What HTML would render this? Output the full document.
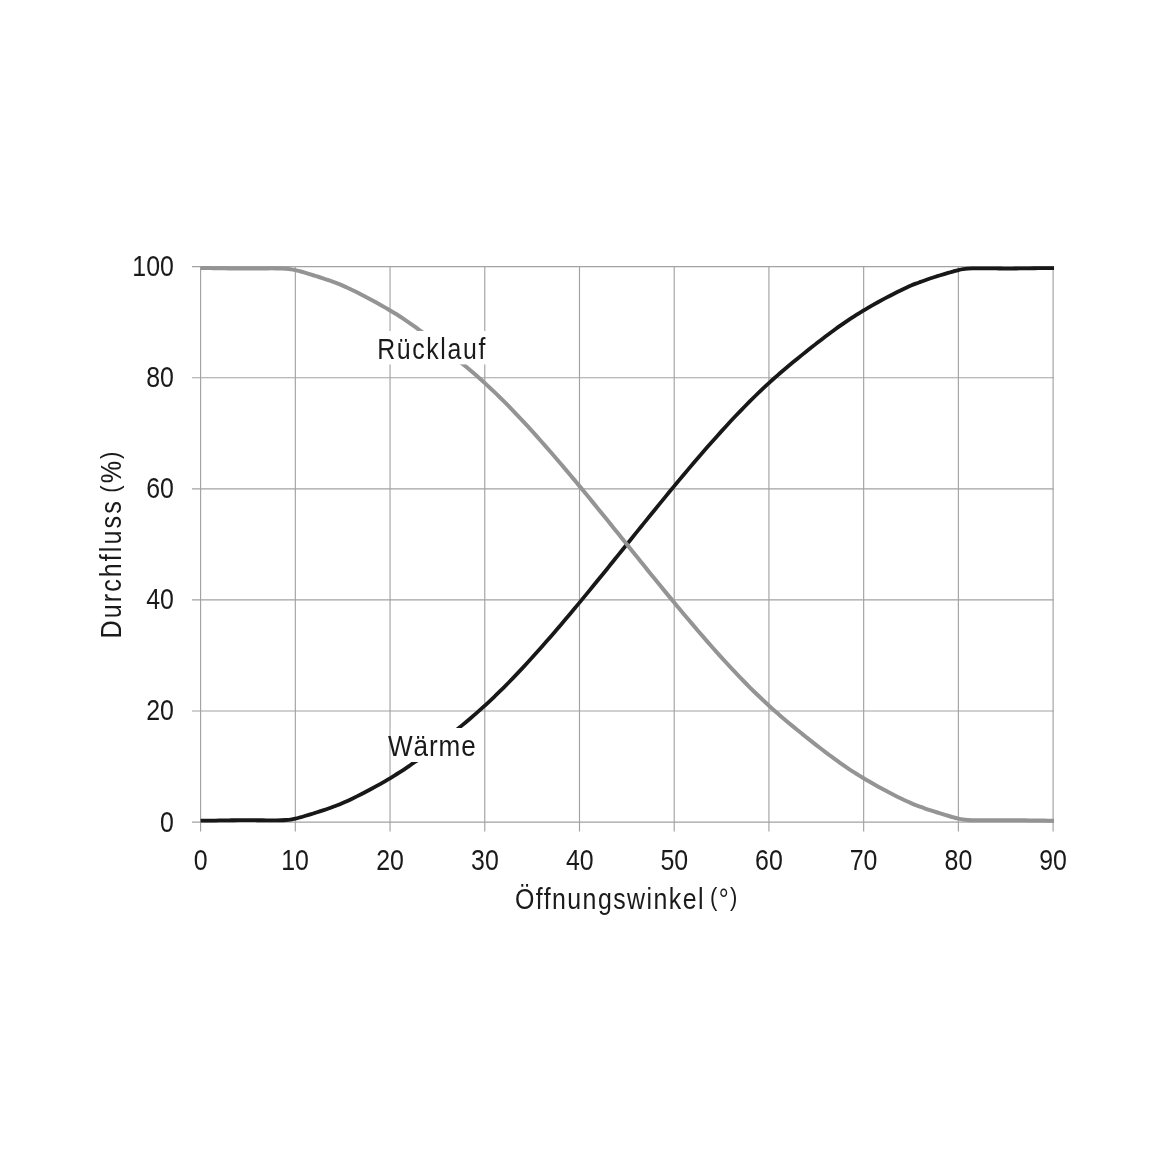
<!DOCTYPE html>
<html lang="de"><head><meta charset="utf-8"><title>Durchfluss / Öffnungswinkel</title>
<style>
html,body{margin:0;padding:0;background:#fff;}
body{width:1171px;height:1171px;overflow:hidden;}
svg{display:block;}
text{font-family:"Liberation Sans",sans-serif;fill:#1a1a1a;}
</style></head><body>
<svg width="1171" height="1171" viewBox="0 0 1171 1171">
<rect width="1171" height="1171" fill="#fff"/>

<g stroke="#a2a2a2" stroke-width="1.15" fill="none">
<line x1="200.60" y1="266.00" x2="200.60" y2="831.50"/>
<line x1="295.32" y1="266.00" x2="295.32" y2="831.50"/>
<line x1="390.04" y1="266.00" x2="390.04" y2="831.50"/>
<line x1="484.77" y1="266.00" x2="484.77" y2="831.50"/>
<line x1="579.49" y1="266.00" x2="579.49" y2="831.50"/>
<line x1="674.21" y1="266.00" x2="674.21" y2="831.50"/>
<line x1="768.93" y1="266.00" x2="768.93" y2="831.50"/>
<line x1="863.66" y1="266.00" x2="863.66" y2="831.50"/>
<line x1="958.38" y1="266.00" x2="958.38" y2="831.50"/>
<line x1="1053.10" y1="266.00" x2="1053.10" y2="831.50"/>
<line x1="192.00" y1="822.10" x2="1053.70" y2="822.10"/>
<line x1="192.00" y1="711.00" x2="1053.70" y2="711.00"/>
<line x1="192.00" y1="599.90" x2="1053.70" y2="599.90"/>
<line x1="192.00" y1="488.80" x2="1053.70" y2="488.80"/>
<line x1="192.00" y1="377.70" x2="1053.70" y2="377.70"/>
<line x1="192.00" y1="266.60" x2="1053.70" y2="266.60"/>
</g>
<path d="M200.60 820.66 C201.39 820.66 203.76 820.66 205.34 820.65 C206.91 820.64 208.49 820.62 210.07 820.60 C211.65 820.59 213.23 820.56 214.81 820.54 C216.39 820.52 217.97 820.49 219.54 820.46 C221.12 820.44 222.70 820.41 224.28 820.38 C225.86 820.35 227.44 820.32 229.02 820.30 C230.60 820.28 232.17 820.25 233.75 820.23 C235.33 820.21 236.91 820.20 238.49 820.19 C240.07 820.17 241.65 820.17 243.22 820.16 C244.80 820.16 246.38 820.16 247.96 820.16 C249.54 820.17 251.12 820.18 252.70 820.19 C254.28 820.20 255.85 820.21 257.43 820.23 C259.01 820.24 260.59 820.26 262.17 820.27 C263.75 820.29 265.33 820.30 266.91 820.31 C268.48 820.33 270.06 820.34 271.64 820.34 C273.22 820.34 274.80 820.34 276.38 820.32 C277.96 820.30 279.54 820.28 281.11 820.23 C282.69 820.18 284.27 820.12 285.85 820.00 C287.43 819.88 289.01 819.74 290.59 819.51 C292.16 819.28 293.74 818.97 295.32 818.62 C296.90 818.27 298.48 817.83 300.06 817.40 C301.64 816.97 303.22 816.50 304.79 816.04 C306.37 815.58 307.95 815.10 309.53 814.62 C311.11 814.14 312.69 813.65 314.27 813.16 C315.85 812.67 317.42 812.18 319.00 811.68 C320.58 811.17 322.16 810.66 323.74 810.14 C325.32 809.61 326.90 809.08 328.47 808.52 C330.05 807.96 331.63 807.37 333.21 806.80 C334.79 806.23 336.37 805.70 337.95 805.08 C339.53 804.46 341.10 803.78 342.68 803.09 C344.26 802.41 345.84 801.70 347.42 800.97 C349.00 800.25 350.58 799.50 352.16 798.74 C353.73 797.98 355.31 797.20 356.89 796.41 C358.47 795.62 360.05 794.81 361.63 794.00 C363.21 793.19 364.79 792.36 366.36 791.53 C367.94 790.70 369.52 789.86 371.10 789.00 C372.68 788.15 374.26 787.30 375.84 786.43 C377.41 785.56 378.99 784.68 380.57 783.79 C382.15 782.90 383.73 782.00 385.31 781.08 C386.89 780.16 388.47 779.23 390.04 778.29 C391.62 777.34 393.20 776.38 394.78 775.40 C396.36 774.43 397.94 773.43 399.52 772.42 C401.10 771.41 402.67 770.37 404.25 769.33 C405.83 768.28 407.41 767.21 408.99 766.13 C410.57 765.04 412.15 763.94 413.72 762.82 C415.30 761.71 416.88 760.57 418.46 759.42 C420.04 758.28 421.62 757.11 423.20 755.94 C424.78 754.76 426.35 753.57 427.93 752.38 C429.51 751.18 431.09 749.97 432.67 748.75 C434.25 747.54 435.83 746.31 437.41 745.08 C438.98 743.85 440.56 742.61 442.14 741.36 C443.72 740.12 445.30 738.87 446.88 737.61 C448.46 736.35 450.04 735.09 451.61 733.82 C453.19 732.55 454.77 731.28 456.35 729.99 C457.93 728.71 459.51 727.42 461.09 726.12 C462.66 724.82 464.24 723.51 465.82 722.19 C467.40 720.87 468.98 719.53 470.56 718.19 C472.14 716.84 473.72 715.48 475.29 714.11 C476.87 712.73 478.45 711.34 480.03 709.93 C481.61 708.53 483.19 707.11 484.77 705.66 C486.35 704.22 487.92 702.77 489.50 701.29 C491.08 699.81 492.66 698.32 494.24 696.81 C495.82 695.30 497.40 693.77 498.97 692.22 C500.55 690.68 502.13 689.12 503.71 687.54 C505.29 685.96 506.87 684.36 508.45 682.75 C510.03 681.14 511.60 679.52 513.18 677.88 C514.76 676.24 516.34 674.58 517.92 672.91 C519.50 671.24 521.08 669.56 522.66 667.87 C524.23 666.17 525.81 664.47 527.39 662.75 C528.97 661.03 530.55 659.30 532.13 657.56 C533.71 655.82 535.29 654.07 536.86 652.30 C538.44 650.54 540.02 648.77 541.60 646.98 C543.18 645.20 544.76 643.41 546.34 641.61 C547.91 639.81 549.49 637.99 551.07 636.17 C552.65 634.36 554.23 632.53 555.81 630.69 C557.39 628.85 558.97 627.01 560.54 625.16 C562.12 623.31 563.70 621.45 565.28 619.58 C566.86 617.71 568.44 615.84 570.02 613.96 C571.60 612.08 573.17 610.19 574.75 608.30 C576.33 606.40 577.91 604.51 579.49 602.60 C581.07 600.70 582.65 598.79 584.22 596.87 C585.80 594.96 587.38 593.04 588.96 591.11 C590.54 589.19 592.12 587.26 593.70 585.32 C595.28 583.39 596.85 581.45 598.43 579.51 C600.01 577.57 601.59 575.63 603.17 573.68 C604.75 571.74 606.33 569.79 607.91 567.84 C609.48 565.89 611.06 563.93 612.64 561.98 C614.22 560.02 615.80 558.07 617.38 556.11 C618.96 554.15 620.54 552.19 622.11 550.23 C623.69 548.27 625.27 546.31 626.85 544.35 C628.43 542.39 630.01 540.43 631.59 538.47 C633.16 536.51 634.74 534.55 636.32 532.59 C637.90 530.63 639.48 528.68 641.06 526.72 C642.64 524.77 644.22 522.81 645.79 520.86 C647.37 518.91 648.95 516.96 650.53 515.02 C652.11 513.07 653.69 511.13 655.27 509.19 C656.85 507.25 658.42 505.31 660.00 503.38 C661.58 501.44 663.16 499.51 664.74 497.59 C666.32 495.66 667.90 493.74 669.47 491.83 C671.05 489.91 672.63 488.00 674.21 486.10 C675.79 484.19 677.37 482.30 678.95 480.40 C680.53 478.51 682.10 476.62 683.68 474.74 C685.26 472.86 686.84 470.99 688.42 469.12 C690.00 467.25 691.58 465.39 693.16 463.54 C694.73 461.69 696.31 459.85 697.89 458.01 C699.47 456.17 701.05 454.34 702.63 452.53 C704.21 450.71 705.79 448.89 707.36 447.09 C708.94 445.29 710.52 443.50 712.10 441.72 C713.68 439.93 715.26 438.16 716.84 436.40 C718.41 434.63 719.99 432.88 721.57 431.14 C723.15 429.40 724.73 427.67 726.31 425.95 C727.89 424.23 729.47 422.53 731.04 420.83 C732.62 419.14 734.20 417.46 735.78 415.79 C737.36 414.12 738.94 412.46 740.52 410.82 C742.10 409.18 743.67 407.56 745.25 405.95 C746.83 404.34 748.41 402.74 749.99 401.16 C751.57 399.58 753.15 398.02 754.72 396.48 C756.30 394.93 757.88 393.40 759.46 391.89 C761.04 390.38 762.62 388.89 764.20 387.41 C765.78 385.93 767.35 384.48 768.93 383.04 C770.51 381.59 772.09 380.17 773.67 378.77 C775.25 377.36 776.83 375.97 778.41 374.59 C779.98 373.22 781.56 371.86 783.14 370.51 C784.72 369.17 786.30 367.83 787.88 366.51 C789.46 365.19 791.04 363.88 792.61 362.58 C794.19 361.28 795.77 359.99 797.35 358.71 C798.93 357.42 800.51 356.15 802.09 354.88 C803.66 353.61 805.24 352.35 806.82 351.09 C808.40 349.83 809.98 348.58 811.56 347.34 C813.14 346.09 814.72 344.85 816.29 343.62 C817.87 342.39 819.45 341.16 821.03 339.95 C822.61 338.73 824.19 337.52 825.77 336.32 C827.35 335.13 828.92 333.94 830.50 332.76 C832.08 331.59 833.66 330.42 835.24 329.28 C836.82 328.13 838.40 326.99 839.97 325.88 C841.55 324.76 843.13 323.66 844.71 322.57 C846.29 321.49 847.87 320.42 849.45 319.37 C851.03 318.33 852.60 317.29 854.18 316.28 C855.76 315.27 857.34 314.27 858.92 313.30 C860.50 312.32 862.08 311.36 863.66 310.41 C865.23 309.47 866.81 308.54 868.39 307.62 C869.97 306.70 871.55 305.80 873.13 304.91 C874.71 304.02 876.29 303.14 877.86 302.27 C879.44 301.40 881.02 300.55 882.60 299.70 C884.18 298.84 885.76 298.00 887.34 297.17 C888.91 296.34 890.49 295.51 892.07 294.70 C893.65 293.89 895.23 293.08 896.81 292.29 C898.39 291.50 899.97 290.72 901.54 289.96 C903.12 289.20 904.70 288.45 906.28 287.73 C907.86 287.00 909.44 286.29 911.02 285.61 C912.60 284.92 914.17 284.24 915.75 283.62 C917.33 283.00 918.91 282.47 920.49 281.90 C922.07 281.33 923.65 280.74 925.22 280.18 C926.80 279.62 928.38 279.09 929.96 278.56 C931.54 278.04 933.12 277.53 934.70 277.02 C936.28 276.52 937.85 276.03 939.43 275.54 C941.01 275.05 942.59 274.56 944.17 274.08 C945.75 273.60 947.33 273.12 948.91 272.66 C950.48 272.20 952.06 271.73 953.64 271.30 C955.22 270.87 956.80 270.43 958.38 270.08 C959.96 269.73 961.54 269.42 963.11 269.19 C964.69 268.96 966.27 268.82 967.85 268.70 C969.43 268.58 971.01 268.52 972.59 268.47 C974.16 268.42 975.74 268.40 977.32 268.38 C978.90 268.36 980.48 268.36 982.06 268.36 C983.64 268.36 985.22 268.37 986.79 268.39 C988.37 268.40 989.95 268.41 991.53 268.43 C993.11 268.44 994.69 268.46 996.27 268.47 C997.85 268.49 999.42 268.50 1001.00 268.51 C1002.58 268.52 1004.16 268.53 1005.74 268.54 C1007.32 268.54 1008.90 268.54 1010.47 268.54 C1012.05 268.53 1013.63 268.53 1015.21 268.51 C1016.79 268.50 1018.37 268.49 1019.95 268.47 C1021.53 268.45 1023.10 268.42 1024.68 268.40 C1026.26 268.38 1027.84 268.35 1029.42 268.32 C1031.00 268.29 1032.58 268.26 1034.16 268.24 C1035.73 268.21 1037.31 268.18 1038.89 268.16 C1040.47 268.14 1042.05 268.11 1043.63 268.10 C1045.21 268.08 1046.79 268.06 1048.36 268.05 C1049.94 268.04 1052.15 268.04 1053.10 268.04 C1054.05 268.03 1053.89 268.04 1054.05 268.04" fill="none" stroke="#181818" stroke-width="3.8" stroke-linejoin="round"/>
<path d="M200.60 268.04 C201.39 268.04 203.76 268.04 205.34 268.05 C206.91 268.06 208.49 268.08 210.07 268.10 C211.65 268.11 213.23 268.14 214.81 268.16 C216.39 268.18 217.97 268.21 219.54 268.24 C221.12 268.26 222.70 268.29 224.28 268.32 C225.86 268.35 227.44 268.38 229.02 268.40 C230.60 268.42 232.17 268.45 233.75 268.47 C235.33 268.49 236.91 268.50 238.49 268.51 C240.07 268.53 241.65 268.53 243.22 268.54 C244.80 268.54 246.38 268.54 247.96 268.54 C249.54 268.53 251.12 268.52 252.70 268.51 C254.28 268.50 255.85 268.49 257.43 268.47 C259.01 268.46 260.59 268.44 262.17 268.43 C263.75 268.41 265.33 268.40 266.91 268.39 C268.48 268.37 270.06 268.36 271.64 268.36 C273.22 268.36 274.80 268.36 276.38 268.38 C277.96 268.40 279.54 268.42 281.11 268.47 C282.69 268.52 284.27 268.58 285.85 268.70 C287.43 268.82 289.01 268.96 290.59 269.19 C292.16 269.42 293.74 269.73 295.32 270.08 C296.90 270.43 298.48 270.87 300.06 271.30 C301.64 271.73 303.22 272.20 304.79 272.66 C306.37 273.12 307.95 273.60 309.53 274.08 C311.11 274.56 312.69 275.05 314.27 275.54 C315.85 276.03 317.42 276.52 319.00 277.02 C320.58 277.53 322.16 278.04 323.74 278.56 C325.32 279.09 326.90 279.62 328.47 280.18 C330.05 280.74 331.63 281.33 333.21 281.90 C334.79 282.47 336.37 283.00 337.95 283.62 C339.53 284.24 341.10 284.92 342.68 285.61 C344.26 286.29 345.84 287.00 347.42 287.73 C349.00 288.45 350.58 289.20 352.16 289.96 C353.73 290.72 355.31 291.50 356.89 292.29 C358.47 293.08 360.05 293.89 361.63 294.70 C363.21 295.51 364.79 296.34 366.36 297.17 C367.94 298.00 369.52 298.84 371.10 299.70 C372.68 300.55 374.26 301.40 375.84 302.27 C377.41 303.14 378.99 304.02 380.57 304.91 C382.15 305.80 383.73 306.70 385.31 307.62 C386.89 308.54 388.47 309.47 390.04 310.41 C391.62 311.36 393.20 312.32 394.78 313.30 C396.36 314.27 397.94 315.27 399.52 316.28 C401.10 317.29 402.67 318.33 404.25 319.37 C405.83 320.42 407.41 321.49 408.99 322.57 C410.57 323.66 412.15 324.76 413.72 325.88 C415.30 326.99 416.88 328.13 418.46 329.28 C420.04 330.42 421.62 331.59 423.20 332.76 C424.78 333.94 426.35 335.13 427.93 336.32 C429.51 337.52 431.09 338.73 432.67 339.95 C434.25 341.16 435.83 342.39 437.41 343.62 C438.98 344.85 440.56 346.09 442.14 347.34 C443.72 348.58 445.30 349.83 446.88 351.09 C448.46 352.35 450.04 353.61 451.61 354.88 C453.19 356.15 454.77 357.42 456.35 358.71 C457.93 359.99 459.51 361.28 461.09 362.58 C462.66 363.88 464.24 365.19 465.82 366.51 C467.40 367.83 468.98 369.17 470.56 370.51 C472.14 371.86 473.72 373.22 475.29 374.59 C476.87 375.97 478.45 377.36 480.03 378.77 C481.61 380.17 483.19 381.59 484.77 383.04 C486.35 384.48 487.92 385.93 489.50 387.41 C491.08 388.89 492.66 390.38 494.24 391.89 C495.82 393.40 497.40 394.93 498.97 396.48 C500.55 398.02 502.13 399.58 503.71 401.16 C505.29 402.74 506.87 404.34 508.45 405.95 C510.03 407.56 511.60 409.18 513.18 410.82 C514.76 412.46 516.34 414.12 517.92 415.79 C519.50 417.46 521.08 419.14 522.66 420.83 C524.23 422.53 525.81 424.23 527.39 425.95 C528.97 427.67 530.55 429.40 532.13 431.14 C533.71 432.88 535.29 434.63 536.86 436.40 C538.44 438.16 540.02 439.93 541.60 441.72 C543.18 443.50 544.76 445.29 546.34 447.09 C547.91 448.89 549.49 450.71 551.07 452.53 C552.65 454.34 554.23 456.17 555.81 458.01 C557.39 459.85 558.97 461.69 560.54 463.54 C562.12 465.39 563.70 467.25 565.28 469.12 C566.86 470.99 568.44 472.86 570.02 474.74 C571.60 476.62 573.17 478.51 574.75 480.40 C576.33 482.30 577.91 484.19 579.49 486.10 C581.07 488.00 582.65 489.91 584.22 491.83 C585.80 493.74 587.38 495.66 588.96 497.59 C590.54 499.51 592.12 501.44 593.70 503.38 C595.28 505.31 596.85 507.25 598.43 509.19 C600.01 511.13 601.59 513.07 603.17 515.02 C604.75 516.96 606.33 518.91 607.91 520.86 C609.48 522.81 611.06 524.77 612.64 526.72 C614.22 528.68 615.80 530.63 617.38 532.59 C618.96 534.55 620.54 536.51 622.11 538.47 C623.69 540.43 625.27 542.39 626.85 544.35 C628.43 546.31 630.01 548.27 631.59 550.23 C633.16 552.19 634.74 554.15 636.32 556.11 C637.90 558.07 639.48 560.02 641.06 561.98 C642.64 563.93 644.22 565.89 645.79 567.84 C647.37 569.79 648.95 571.74 650.53 573.68 C652.11 575.63 653.69 577.57 655.27 579.51 C656.85 581.45 658.42 583.39 660.00 585.32 C661.58 587.26 663.16 589.19 664.74 591.11 C666.32 593.04 667.90 594.96 669.47 596.87 C671.05 598.79 672.63 600.70 674.21 602.60 C675.79 604.51 677.37 606.40 678.95 608.30 C680.53 610.19 682.10 612.08 683.68 613.96 C685.26 615.84 686.84 617.71 688.42 619.58 C690.00 621.45 691.58 623.31 693.16 625.16 C694.73 627.01 696.31 628.85 697.89 630.69 C699.47 632.53 701.05 634.36 702.63 636.17 C704.21 637.99 705.79 639.81 707.36 641.61 C708.94 643.41 710.52 645.20 712.10 646.98 C713.68 648.77 715.26 650.54 716.84 652.30 C718.41 654.07 719.99 655.82 721.57 657.56 C723.15 659.30 724.73 661.03 726.31 662.75 C727.89 664.47 729.47 666.17 731.04 667.87 C732.62 669.56 734.20 671.24 735.78 672.91 C737.36 674.58 738.94 676.24 740.52 677.88 C742.10 679.52 743.67 681.14 745.25 682.75 C746.83 684.36 748.41 685.96 749.99 687.54 C751.57 689.12 753.15 690.68 754.72 692.22 C756.30 693.77 757.88 695.30 759.46 696.81 C761.04 698.32 762.62 699.81 764.20 701.29 C765.78 702.77 767.35 704.22 768.93 705.66 C770.51 707.11 772.09 708.53 773.67 709.93 C775.25 711.34 776.83 712.73 778.41 714.11 C779.98 715.48 781.56 716.84 783.14 718.19 C784.72 719.53 786.30 720.87 787.88 722.19 C789.46 723.51 791.04 724.82 792.61 726.12 C794.19 727.42 795.77 728.71 797.35 729.99 C798.93 731.28 800.51 732.55 802.09 733.82 C803.66 735.09 805.24 736.35 806.82 737.61 C808.40 738.87 809.98 740.12 811.56 741.36 C813.14 742.61 814.72 743.85 816.29 745.08 C817.87 746.31 819.45 747.54 821.03 748.75 C822.61 749.97 824.19 751.18 825.77 752.38 C827.35 753.57 828.92 754.76 830.50 755.94 C832.08 757.11 833.66 758.28 835.24 759.42 C836.82 760.57 838.40 761.71 839.97 762.82 C841.55 763.94 843.13 765.04 844.71 766.13 C846.29 767.21 847.87 768.28 849.45 769.33 C851.03 770.37 852.60 771.41 854.18 772.42 C855.76 773.43 857.34 774.43 858.92 775.40 C860.50 776.38 862.08 777.34 863.66 778.29 C865.23 779.23 866.81 780.16 868.39 781.08 C869.97 782.00 871.55 782.90 873.13 783.79 C874.71 784.68 876.29 785.56 877.86 786.43 C879.44 787.30 881.02 788.15 882.60 789.00 C884.18 789.86 885.76 790.70 887.34 791.53 C888.91 792.36 890.49 793.19 892.07 794.00 C893.65 794.81 895.23 795.62 896.81 796.41 C898.39 797.20 899.97 797.98 901.54 798.74 C903.12 799.50 904.70 800.25 906.28 800.97 C907.86 801.70 909.44 802.41 911.02 803.09 C912.60 803.78 914.17 804.46 915.75 805.08 C917.33 805.70 918.91 806.23 920.49 806.80 C922.07 807.37 923.65 807.96 925.22 808.52 C926.80 809.08 928.38 809.61 929.96 810.14 C931.54 810.66 933.12 811.17 934.70 811.68 C936.28 812.18 937.85 812.67 939.43 813.16 C941.01 813.65 942.59 814.14 944.17 814.62 C945.75 815.10 947.33 815.58 948.91 816.04 C950.48 816.50 952.06 816.97 953.64 817.40 C955.22 817.83 956.80 818.27 958.38 818.62 C959.96 818.97 961.54 819.28 963.11 819.51 C964.69 819.74 966.27 819.88 967.85 820.00 C969.43 820.12 971.01 820.18 972.59 820.23 C974.16 820.28 975.74 820.30 977.32 820.32 C978.90 820.34 980.48 820.34 982.06 820.34 C983.64 820.34 985.22 820.33 986.79 820.31 C988.37 820.30 989.95 820.29 991.53 820.27 C993.11 820.26 994.69 820.24 996.27 820.23 C997.85 820.21 999.42 820.20 1001.00 820.19 C1002.58 820.18 1004.16 820.17 1005.74 820.16 C1007.32 820.16 1008.90 820.16 1010.47 820.16 C1012.05 820.17 1013.63 820.17 1015.21 820.19 C1016.79 820.20 1018.37 820.21 1019.95 820.23 C1021.53 820.25 1023.10 820.28 1024.68 820.30 C1026.26 820.32 1027.84 820.35 1029.42 820.38 C1031.00 820.41 1032.58 820.44 1034.16 820.46 C1035.73 820.49 1037.31 820.52 1038.89 820.54 C1040.47 820.56 1042.05 820.59 1043.63 820.60 C1045.21 820.62 1046.79 820.64 1048.36 820.65 C1049.94 820.66 1052.15 820.66 1053.10 820.66 C1054.05 820.67 1053.89 820.66 1054.05 820.66" fill="none" stroke="#949494" stroke-width="4.0" stroke-linejoin="round"/>
<rect x="376" y="331" width="112" height="33.4" fill="#fff"/>
<rect x="390.9" y="728" width="87.5" height="34" fill="#fff"/>
<text transform="translate(377.15 358.60) scale(0.8600 1)" font-size="28.90" letter-spacing="1.911">Rücklauf</text>
<text transform="translate(388.07 755.50) scale(0.9000 1)" font-size="29.00" letter-spacing="0.972">Wärme</text>
<text transform="translate(160.01 831.50) scale(0.8469 1)" font-size="29.40">0</text>
<text transform="translate(146.19 720.40) scale(0.8469 1)" font-size="29.40">20</text>
<text transform="translate(146.19 609.30) scale(0.8469 1)" font-size="29.40">40</text>
<text transform="translate(146.19 498.20) scale(0.8469 1)" font-size="29.40">60</text>
<text transform="translate(146.19 387.10) scale(0.8469 1)" font-size="29.40">80</text>
<text transform="translate(132.31 276.00) scale(0.8469 1)" font-size="29.40">100</text>
<text transform="translate(193.76 869.90) scale(0.8469 1)" font-size="29.40">0</text>
<text transform="translate(281.14 869.90) scale(0.8469 1)" font-size="29.40">10</text>
<text transform="translate(376.17 869.90) scale(0.8469 1)" font-size="29.40">20</text>
<text transform="translate(471.05 869.90) scale(0.8469 1)" font-size="29.40">30</text>
<text transform="translate(565.96 869.90) scale(0.8469 1)" font-size="29.40">40</text>
<text transform="translate(660.46 869.90) scale(0.8469 1)" font-size="29.40">50</text>
<text transform="translate(755.06 869.90) scale(0.8469 1)" font-size="29.40">60</text>
<text transform="translate(849.75 869.90) scale(0.8469 1)" font-size="29.40">70</text>
<text transform="translate(944.60 869.90) scale(0.8469 1)" font-size="29.40">80</text>
<text transform="translate(1039.26 869.90) scale(0.8469 1)" font-size="29.40">90</text>
<text transform="translate(514.92 908.80) scale(0.8600 1)" font-size="29.00" letter-spacing="1.670">Öffnungswinkel <tspan font-size="25.66" dy="-2.40" dx="-4.00">(</tspan><tspan dy="2.40">°</tspan><tspan font-size="25.66" dy="-2.40">)</tspan></text>
<text transform="translate(121.30 636.40) rotate(-90) translate(-2.07 0) scale(0.8600 1)" font-size="29.20" letter-spacing="2.402">Durchfluss <tspan font-size="25.84" dy="-2.40" dx="-3.00">(</tspan><tspan dy="2.40">%</tspan><tspan font-size="25.84" dy="-2.40">)</tspan></text>
</svg></body></html>
